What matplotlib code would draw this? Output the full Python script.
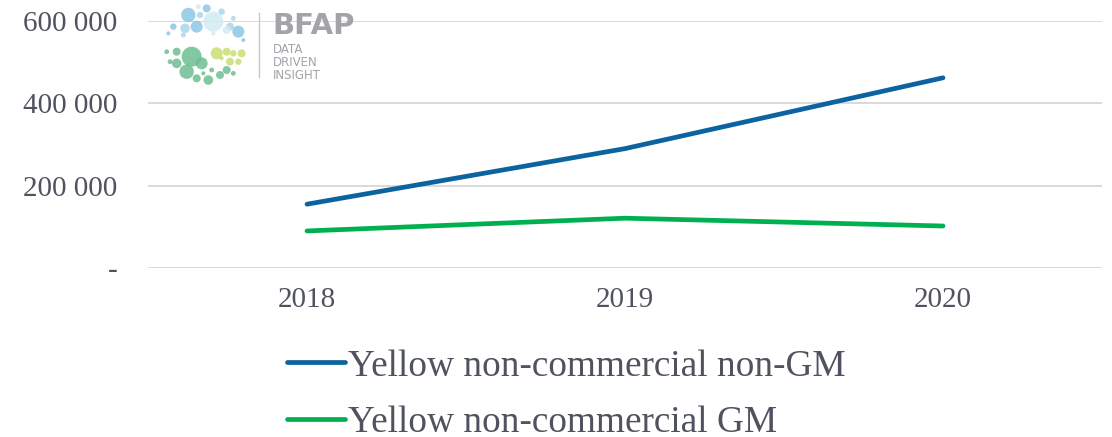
import numpy as np
import matplotlib.pyplot as plt
from matplotlib.patches import Circle

years = ['2018', '2019', '2020']
non_gm = [155000, 290000, 462000]
gm = [90000, 121000, 102000]
yticks = [0, 200000, 400000, 600000]
ytick_labels = ['-', '200 000', '400 000', '600 000']

txt = '#50535f'
plt.rcParams['font.family'] = ['Liberation Serif', 'DejaVu Serif']

fig = plt.figure(figsize=(11.12, 4.37), dpi=100)
ax = fig.add_axes([148/1112, 1-268/437, 954/1112, 247/437])

x = np.arange(len(years))
l1, = ax.plot(x, non_gm, color='#0b64a0', lw=3.4, solid_capstyle='round',
              label='Yellow non-commercial non-GM')
l2, = ax.plot(x, gm, color='#00b050', lw=3.4, solid_capstyle='round',
              label='Yellow non-commercial GM')

ax.set_xlim(-0.5, 2.5)
ax.set_ylim(0, 600000)
ax.set_xticks(x)
ax.set_xticklabels(years)
ax.set_yticks(yticks)
ax.set_yticklabels(ytick_labels)
ax.tick_params(axis='both', length=0, labelsize=21, colors=txt)
ax.tick_params(axis='y', pad=22)
ax.tick_params(axis='x', pad=14)
for s in ax.spines.values():
    s.set_visible(False)
ax.grid(axis='y', color='#d9d9d9', lw=1.4)
ax.set_axisbelow(True)

fig.legend(handles=[l1, l2], loc='upper left', bbox_to_anchor=(287/1112, 1-349/437),
           frameon=False, fontsize=26.8, labelcolor=txt, handlelength=1.55,
           handletextpad=0.08, labelspacing=0.6, borderpad=0, borderaxespad=0)

# logo (decoration)
lg = fig.add_axes([0, 0, 1, 1], zorder=5)
lg.set_xlim(0, 1112)
lg.set_ylim(437, 0)
lg.axis('off')
circles = [
    (565, 45, 18, '#8cc8e2'), (640, 65, 25, '#d3ebf3'), (620, 25, 10, '#8cc8e2'),
    (600, 45, 8, '#a9d6ea'), (665, 35, 8, '#a9d6ea'), (590, 80, 15, '#8cc8e2'),
    (555, 85, 12, '#a9d6ea'), (520, 80, 8, '#8cc8e2'), (505, 100, 5, '#8cc8e2'),
    (715, 95, 15, '#8cc8e2'), (690, 80, 10, '#a9d6ea'), (730, 120, 5, '#8cc8e2'),
    (700, 55, 6, '#a9d6ea'), (680, 90, 10, '#d3ebf3'), (550, 105, 6, '#a9d6ea'),
    (595, 20, 6, '#d3ebf3'), (640, 100, 5, '#d3ebf3'),
    (575, 170, 25, '#6dbf93'), (530, 155, 10, '#6dbf93'), (500, 155, 6, '#6dbf93'),
    (605, 190, 15, '#6dbf93'), (530, 190, 12, '#6dbf93'), (510, 185, 6, '#6dbf93'),
    (560, 215, 18, '#6dbf93'), (590, 235, 10, '#6dbf93'), (625, 240, 12, '#6dbf93'),
    (660, 225, 10, '#6dbf93'), (680, 210, 10, '#6dbf93'), (635, 210, 6, '#6dbf93'),
    (700, 220, 6, '#6dbf93'), (610, 220, 5, '#6dbf93'),
    (650, 160, 15, '#c8df72'), (680, 155, 10, '#c8df72'), (700, 160, 8, '#c8df72'),
    (725, 160, 10, '#c8df72'), (690, 185, 10, '#c8df72'), (715, 185, 8, '#c8df72'),
    (665, 175, 5, '#c8df72'),
]
for cx, cy, r, c in circles:
    lg.add_patch(Circle((cx/3, cy/3), r*1.2/3, color=c, alpha=0.85, lw=0))
lg.plot([259, 259], [13, 77], color='#c8c8c8', lw=1)
lg.text(272, 12, 'BFAP', fontsize=21, fontweight='bold', color='#a3a3a8',
        family='DejaVu Sans', va='top', ha='left')
lg.text(273, 43, 'DATA\nDRIVEN\nINSIGHT', fontsize=8.5, color='#a3a3a8',
        family='DejaVu Sans', va='top', ha='left', linespacing=1.0)

fig.savefig('out.png', dpi=100, facecolor='white')
